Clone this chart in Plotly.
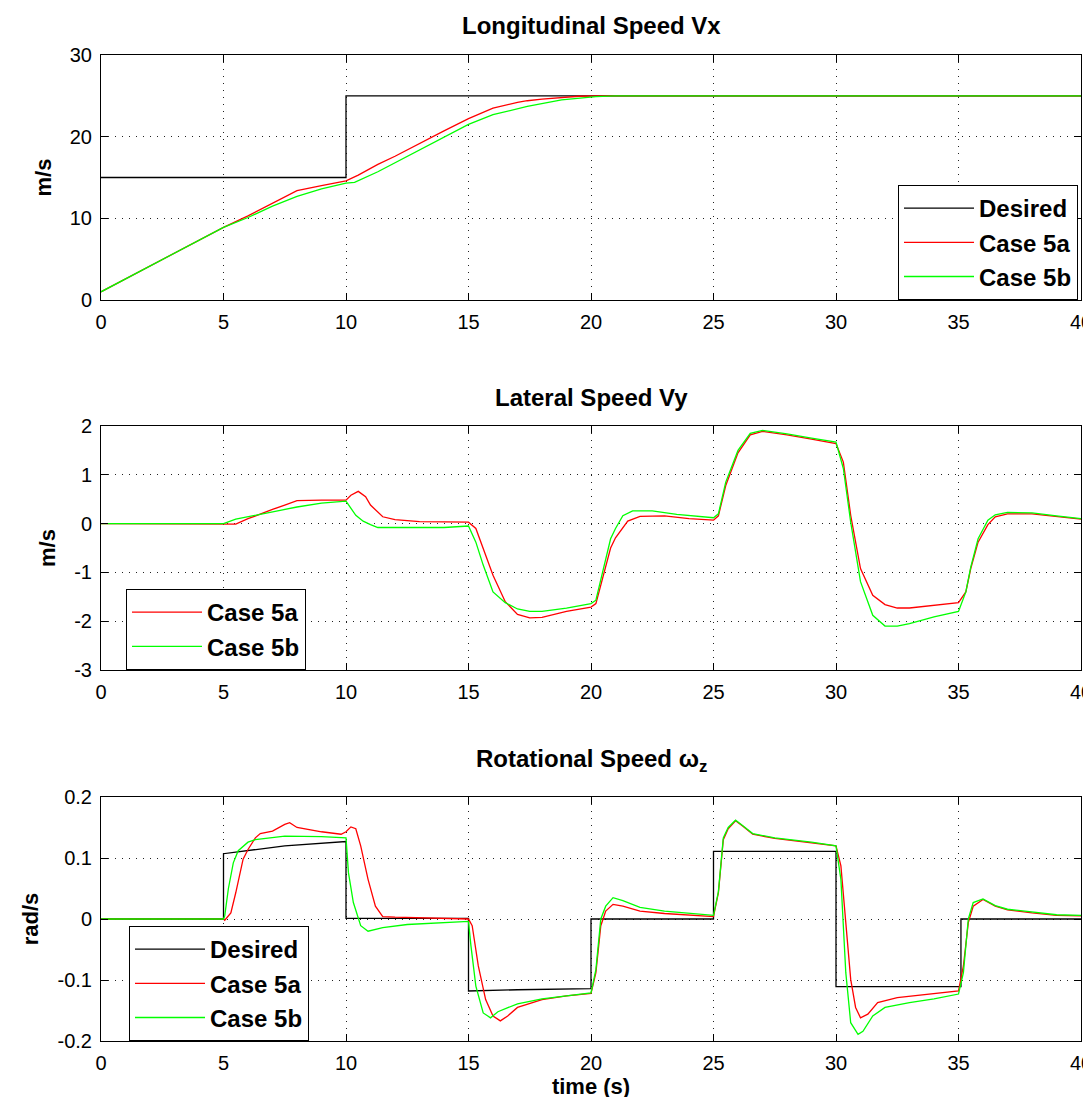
import plotly.graph_objects as go

# ---------------- data ----------------
# Longitudinal speed Vx
t_vx_des = [0, 10, 40]
vx_des = [15, 25, 25]

t_vx_a = [0, 1, 2, 3, 4, 5, 6, 6.5, 7, 8, 9, 10, 10.5, 11.3, 12, 12.7, 13.3, 14, 15, 15.5, 16, 17, 17.4, 18, 18.8, 19.5, 20.5, 40]
vx_a = [1.0, 2.6, 4.2, 5.8, 7.4, 8.9, 10.3, 11.05, 11.8, 13.4, 14.0, 14.6, 15.3, 16.6, 17.6, 18.7, 19.6, 20.7, 22.2, 22.9, 23.5, 24.2, 24.4, 24.6, 24.8, 24.95, 25.0, 25.0]

t_vx_b = [0, 1, 2, 3, 4, 5, 6, 6.5, 7, 8, 9, 10, 10.35, 11.3, 12, 12.7, 13.3, 14, 15, 16, 17.4, 18.8, 20.2, 21, 40]
vx_b = [1.0, 2.6, 4.2, 5.8, 7.4, 8.9, 10.1, 10.8, 11.5, 12.7, 13.6, 14.3, 14.4, 15.7, 16.8, 17.9, 18.9, 20.0, 21.5, 22.7, 23.7, 24.5, 24.9, 25.0, 25.0]

# Lateral speed Vy
t_vy_a = [0, 5, 5.5, 6, 6.5, 7, 7.5, 8, 9, 10, 10.2, 10.5, 10.8, 11, 11.5, 12, 13, 15, 15.3, 15.7, 16, 16.5, 17, 17.5, 18, 19, 20, 20.2, 20.5, 20.8, 21, 21.5, 22, 23, 24, 25, 25.2, 25.5, 26, 26.5, 27, 28, 29, 30, 30.3, 30.6, 31, 31.5, 32, 32.5, 33, 34, 35, 35.3, 35.5, 35.8, 36.2, 36.5, 37, 38, 39, 40]
vy_a = [0, 0, -0.01, 0.1, 0.2, 0.29, 0.38, 0.47, 0.48, 0.48, 0.58, 0.66, 0.55, 0.38, 0.14, 0.08, 0.04, 0.03, -0.1, -0.65, -1.06, -1.6, -1.86, -1.93, -1.92, -1.8, -1.71, -1.64, -1.06, -0.5, -0.29, 0.05, 0.15, 0.16, 0.1, 0.07, 0.16, 0.78, 1.45, 1.82, 1.89, 1.82, 1.73, 1.64, 1.26, 0.17, -0.92, -1.47, -1.66, -1.73, -1.73, -1.67, -1.62, -1.4, -0.92, -0.38, -0.02, 0.14, 0.2, 0.2, 0.14, 0.09]

t_vy_b = [0, 5, 5.5, 6, 7, 8, 9, 10, 10.4, 10.7, 11, 11.3, 12, 14, 15, 15.3, 15.6, 16, 16.5, 17, 17.5, 18, 19, 20, 20.2, 20.5, 20.8, 21, 21.3, 21.7, 22.5, 23.5, 24.5, 25, 25.2, 25.5, 26, 26.5, 27, 28, 29, 30, 30.3, 30.6, 31, 31.5, 32, 32.5, 33, 34, 35, 35.3, 35.5, 35.8, 36.2, 36.5, 37, 38, 39, 40]
vy_b = [0, 0, 0.09, 0.14, 0.25, 0.34, 0.42, 0.46, 0.17, 0.05, -0.02, -0.08, -0.08, -0.08, -0.05, -0.38, -0.85, -1.4, -1.62, -1.75, -1.8, -1.8, -1.73, -1.64, -1.57, -0.92, -0.31, -0.1, 0.16, 0.26, 0.26, 0.19, 0.14, 0.12, 0.2, 0.85, 1.5, 1.85, 1.91, 1.84, 1.75, 1.67, 1.13, 0.03, -1.19, -1.88, -2.1, -2.1, -2.05, -1.91, -1.8, -1.4, -0.89, -0.31, 0.07, 0.18, 0.23, 0.22, 0.16, 0.1]

# Rotational speed wz
t_wz_des = [0, 5, 5, 7.5, 10, 10, 15, 15, 17, 20, 20, 25, 25, 30, 30, 35.1, 35.1, 40]
wz_des = [0, 0, 0.107, 0.12, 0.127, 0.001, 0.001, -0.118, -0.116, -0.114, 0, 0, 0.111, 0.111, -0.111, -0.111, 0, 0]

t_wz_a = [0, 5, 5.05, 5.3, 5.5, 5.8, 6, 6.3, 6.5, 7, 7.5, 7.7, 8, 9, 9.8, 10, 10.2, 10.4, 10.6, 10.9, 11.2, 11.5, 12, 13.3, 15, 15.15, 15.4, 15.7, 16, 16.3, 16.6, 17, 18, 19, 20, 20.2, 20.4, 20.6, 20.9, 21.3, 22, 23, 24, 25, 25.2, 25.4, 25.6, 25.9, 26.2, 26.6, 27.5, 29, 30, 30.2, 30.4, 30.6, 30.8, 31, 31.3, 31.7, 32.5, 34, 35, 35.2, 35.4, 35.6, 36, 36.5, 37, 38, 39, 40]
wz_a = [0, 0, -0.002, 0.01, 0.043, 0.098, 0.114, 0.133, 0.14, 0.144, 0.155, 0.158, 0.15, 0.143, 0.139, 0.143, 0.151, 0.148, 0.12, 0.065, 0.021, 0.004, 0.003, 0.002, 0.0, -0.011, -0.077, -0.132, -0.159, -0.167, -0.159, -0.145, -0.132, -0.126, -0.122, -0.088, -0.011, 0.013, 0.024, 0.021, 0.013, 0.009, 0.007, 0.004, 0.043, 0.13, 0.148, 0.161, 0.152, 0.139, 0.132, 0.125, 0.12, 0.087, -0.006, -0.099, -0.145, -0.162, -0.156, -0.137, -0.129, -0.123, -0.118, -0.077, -0.006, 0.021, 0.032, 0.021, 0.015, 0.01, 0.006, 0.005]

t_wz_b = [0, 5, 5.05, 5.2, 5.4, 5.6, 6, 6.3, 7.5, 9, 10, 10.1, 10.3, 10.6, 10.9, 11.5, 12.5, 13.5, 15, 15.1, 15.3, 15.6, 15.9, 16.2, 17, 18, 19, 20, 20.2, 20.4, 20.6, 20.9, 21.3, 22, 23, 24, 25, 25.2, 25.4, 25.6, 25.9, 26.2, 26.6, 27.5, 29, 30, 30.2, 30.4, 30.6, 30.9, 31.1, 31.5, 32, 33, 34, 35, 35.2, 35.4, 35.6, 36, 36.5, 37, 38, 39, 40]
wz_b = [0, 0, 0.005, 0.05, 0.092, 0.112, 0.126, 0.13, 0.136, 0.135, 0.133, 0.076, 0.027, -0.011, -0.02, -0.014, -0.009, -0.007, -0.004, -0.044, -0.11, -0.154, -0.162, -0.152, -0.139, -0.131, -0.126, -0.121, -0.083, 0.0, 0.021, 0.035, 0.03, 0.019, 0.013, 0.009, 0.006, 0.045, 0.133, 0.15, 0.162, 0.153, 0.14, 0.133, 0.126, 0.12, 0.065, -0.088, -0.17, -0.189, -0.184, -0.159, -0.145, -0.137, -0.131, -0.123, -0.088, 0.0, 0.027, 0.033, 0.022, 0.016, 0.011, 0.007, 0.006]

x_ticks = [0, 5, 10, 15, 20, 25, 30, 35, 40]
vx_ticks = [0, 10, 20, 30]
vy_ticks = [-3, -2, -1, 0, 1, 2]
wz_ticks = [-0.2, -0.1, 0, 0.1, 0.2]
wz_ticklabels = ["-0.2", "-0.1", "0", "0.1", "0.2"]
vy_ticklabels = ["-3", "-2", "-1", "0", "1", "2"]

titles = ["Longitudinal Speed Vx", "Lateral Speed Vy", "Rotational Speed \u03c9<sub>z</sub>"]
ylabels = ["m/s", "m/s", "rad/s"]
names = ["Desired", "Case 5a", "Case 5b"]

for a, b in [(t_vx_a, vx_a), (t_vx_b, vx_b), (t_vy_a, vy_a), (t_vy_b, vy_b),
             (t_wz_a, wz_a), (t_wz_b, wz_b), (t_wz_des, wz_des)]:
    assert len(a) == len(b), (len(a), len(b))

# ---------------- figure ----------------
W, H = 1091, 1097
FONT = "Liberation Sans, Arial, sans-serif"
BLACK, RED, GREEN = "#000000", "#ff0000", "#00ff00"
LW = 1.3

fig = go.Figure()

def add(t, v, name, color, xa, ya, leg, show=True):
    fig.add_trace(go.Scatter(x=t, y=v, mode="lines", name=name,
                             line=dict(color=color, width=LW),
                             xaxis=xa, yaxis=ya, legend=leg, showlegend=show))

add(t_vx_des, vx_des, names[0], BLACK, "x", "y", "legend")
fig.data[-1].line.shape = "hv"
add(t_vx_a, vx_a, names[1], RED, "x", "y", "legend")
add(t_vx_b, vx_b, names[2], GREEN, "x", "y", "legend")

add(t_vy_a, vy_a, names[1], RED, "x2", "y2", "legend2")
add(t_vy_b, vy_b, names[2], GREEN, "x2", "y2", "legend2")

add(t_wz_des, wz_des, names[0], BLACK, "x3", "y3", "legend3")
add(t_wz_a, wz_a, names[1], RED, "x3", "y3", "legend3")
add(t_wz_b, wz_b, names[2], GREEN, "x3", "y3", "legend3")

# axes pixel geometry
L, R = 93, 1073
boxes = [(47, 292), (418, 662), (789, 1033)]

def ydom(top, bot):
    return [1 - bot / H, 1 - top / H]

xdom = [L / W, R / W]

common = dict(showline=True, linecolor="black", linewidth=1, mirror="allticks",
              ticks="inside", ticklen=7, tickcolor="black",
              showgrid=True, gridcolor="#222222", gridwidth=1, griddash="1px,6px",
              zeroline=False, automargin=False,
              tickfont=dict(family=FONT, size=20, color="black"))

yranges = [[0, 30], [-3, 2], [-0.2, 0.2]]
yticks = [(vx_ticks, [str(v) for v in vx_ticks]), (vy_ticks, vy_ticklabels), (wz_ticks, wz_ticklabels)]

layout = dict(width=W, height=H, margin=dict(l=0, r=0, t=0, b=0),
              paper_bgcolor="white", plot_bgcolor="white",
              font=dict(family=FONT, color="black"))

for i, (top, bot) in enumerate(boxes):
    sfx = "" if i == 0 else str(i + 1)
    xa = dict(common, domain=xdom, range=[0, 40], tickvals=x_ticks,
              anchor="y" + sfx, ticklabelstandoff=4)
    if i == 2:
        xa["title"] = dict(text="<b>time (s)</b>", font=dict(family=FONT, size=22, color="black"), standoff=4)
    ya = dict(common, domain=ydom(top, bot), range=yranges[i],
              tickvals=yticks[i][0], ticktext=yticks[i][1], anchor="x" + sfx,
              ticklabelstandoff=4,
              title=dict(text="<b>" + ylabels[i] + "</b>",
                         font=dict(family=FONT, size=22, color="black"), standoff=12))
    layout["xaxis" + sfx] = xa
    layout["yaxis" + sfx] = ya

title_y = [17, 389, 752]
layout["annotations"] = [
    dict(text="<b>" + titles[i] + "</b>", x=(L + R) / 2 / W, y=1 - title_y[i] / H,
         xref="paper", yref="paper", xanchor="center", yanchor="middle",
         showarrow=False, font=dict(family=FONT, size=24, color="black"))
    for i in range(3)
]

leg_common = dict(bgcolor="white", bordercolor="black", borderwidth=1,
                  font=dict(family=FONT, size=24, color="black", weight="bold"),
                  itemwidth=70, tracegroupgap=0)
layout["legend"] = dict(leg_common, x=1070 / W, y=1 - 292 / H, xanchor="right", yanchor="bottom")
layout["legend2"] = dict(leg_common, x=118 / W, y=1 - 662 / H, xanchor="left", yanchor="bottom")
layout["legend3"] = dict(leg_common, x=121 / W, y=1 - 1033 / H, xanchor="left", yanchor="bottom")

fig.update_layout(**layout)
fig.write_html("out.html")
